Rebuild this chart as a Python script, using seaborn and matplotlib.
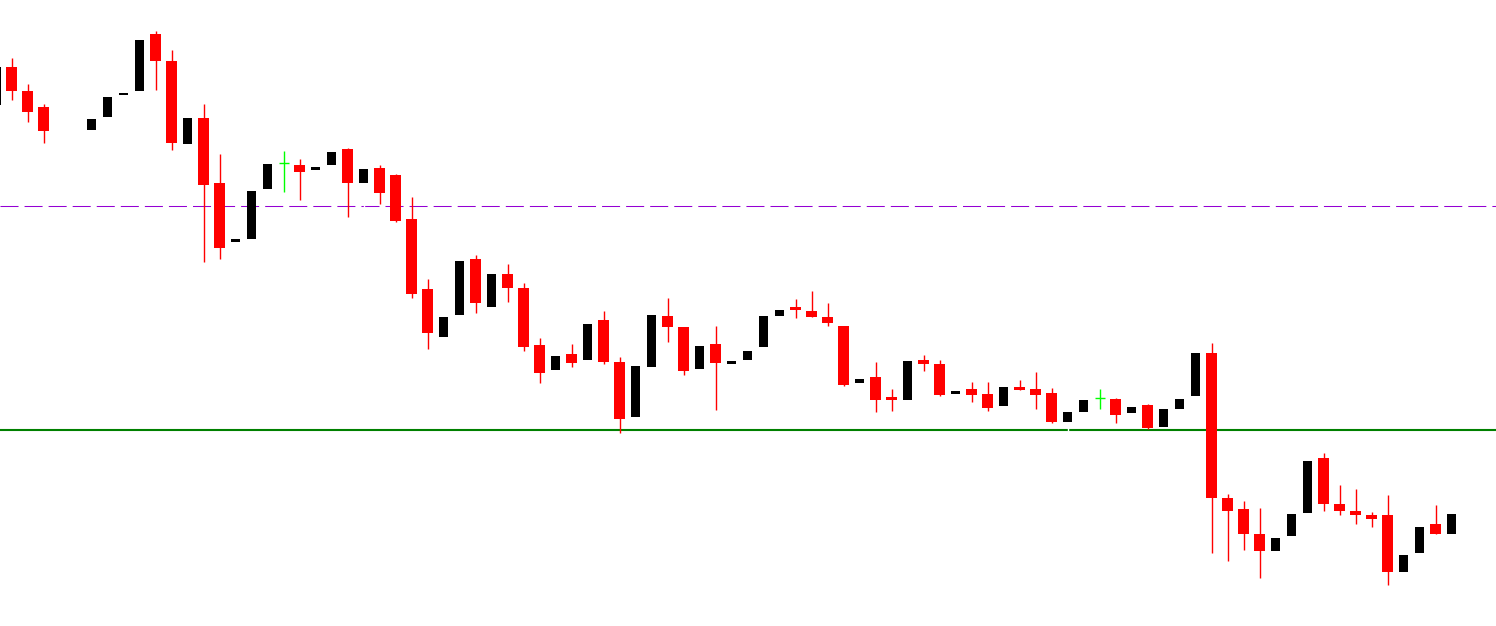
import numpy as np
import pandas as pd
import seaborn as sns
import matplotlib.pyplot as plt

# candle index (x slot), first one is cut off at the left edge
idx = list(range(-1, 91))

nan = np.nan
opens = [521, 559, 535, 519, nan, nan, 496, 509, 531, 535, 592, 565, 482, 508, 443, 384,
         387, 437, 463, 461, 456, 461, 477, 443, 458, 451, 407, 337, 289, 311, 367, 319,
         352, 338, 281, 256, 272, 266, 306, 264, 209, 259, 310, 299, 257, 282, 262, 266,
         279, 310, 319, 315, 309, 300, 243, 249, 229, 226, 266, 262, 232, 237, 232, 220,
         239, 237, 233, 204, 214, 228, 227, 213, 221, 199, 217, 230, 273, 128, 117, 92,
         75, 90, 113, 168, 122, 115, 111, 111, 54, 73, 102, 92]
highs = [559, 568, 542, 522, nan, nan, 507, 529, 533, 586, 595, 576, 508, 522, 472, 387,
         435, 462, 475, 467, 459, 474, 478, 457, 461, 452, 429, 347, 309, 365, 371, 352,
         362, 343, 288, 270, 282, 302, 315, 269, 260, 311, 328, 299, 280, 300, 265, 275,
         310, 316, 327, 335, 323, 300, 247, 264, 237, 265, 271, 266, 235, 244, 244, 239,
         246, 254, 238, 214, 226, 237, 228, 219, 222, 217, 227, 273, 283, 132, 125, 118,
         88, 112, 165, 173, 141, 137, 114, 131, 71, 99, 121, 112]
lows = [521, 526, 504, 483, nan, nan, 496, 509, 531, 535, 536, 476, 482, 364, 367, 384,
        387, 437, 434, 426, 456, 461, 409, 416, 422, 404, 328, 277, 289, 311, 313, 319,
        324, 275, 243, 256, 259, 266, 262, 193, 209, 259, 284, 251, 257, 216, 262, 266,
        279, 310, 308, 309, 300, 240, 243, 214, 215, 226, 255, 230, 232, 224, 215, 220,
        236, 217, 203, 195, 214, 217, 203, 213, 197, 199, 217, 230, 73, 65, 76, 48,
        75, 90, 113, 115, 111, 102, 99, 41, 54, 73, 92, 92]
closes = [559, 535, 514, 495, nan, nan, 507, 529, 533, 586, 565, 483, 508, 441, 378, 387,
          435, 462, 463, 454, 459, 474, 443, 457, 433, 405, 332, 293, 309, 365, 323, 352,
          338, 279, 253, 270, 263, 302, 264, 207, 260, 311, 299, 255, 280, 263, 265, 275,
          310, 316, 316, 309, 303, 241, 247, 226, 226, 265, 262, 231, 235, 231, 218, 239,
          236, 231, 204, 214, 226, 228, 211, 219, 198, 217, 227, 273, 128, 115, 92, 75,
          88, 112, 165, 122, 115, 111, 107, 54, 71, 99, 92, 112]

resistance = 420
support = 196

df = pd.DataFrame({"i": idx, "open": opens, "high": highs, "low": lows, "close": closes}).dropna()
bull = df[df["close"] > df["open"]]
bear = df[df["close"] < df["open"]]
doji = df[df["close"] == df["open"]]

sns.set_theme(style="white")
fig = plt.figure(figsize=(14.96, 6.26), dpi=100)
ax = fig.add_axes([0, 0, 1, 1])

# level lines
ax.axhline(resistance, color="#9400d3", lw=0.75, dashes=(17.3, 5.8), zorder=1)
ax.axhline(support, color="#008000", lw=1.5, zorder=1)

# wicks: bull wicks are white, bear wicks red
ax.vlines(bull["i"], bull["low"], bull["high"], color="white", lw=1, zorder=2)
ax.vlines(bear["i"], bear["low"], bear["high"], color="red", lw=1, zorder=2)
ax.vlines(doji["i"], doji["low"], doji["high"], color="#00ff00", lw=1, zorder=2)
ax.hlines(doji["open"], doji["i"] - 0.34, doji["i"] + 0.34, color="#00ff00", lw=1, zorder=2)

# bodies
ax.bar(bull["i"], bull["close"] - bull["open"], bottom=bull["open"], width=0.5625,
       color="black", linewidth=0, zorder=3)
ax.bar(bear["i"], bear["open"] - bear["close"], bottom=bear["close"], width=0.6875,
       color="red", linewidth=0, zorder=3)

ax.set_xlim(-0.75, 92.75)
ax.set_ylim(0, 626)
ax.axis("off")
sns.despine(left=True, bottom=True)

fig.savefig("out.png", dpi=100, facecolor="white")
